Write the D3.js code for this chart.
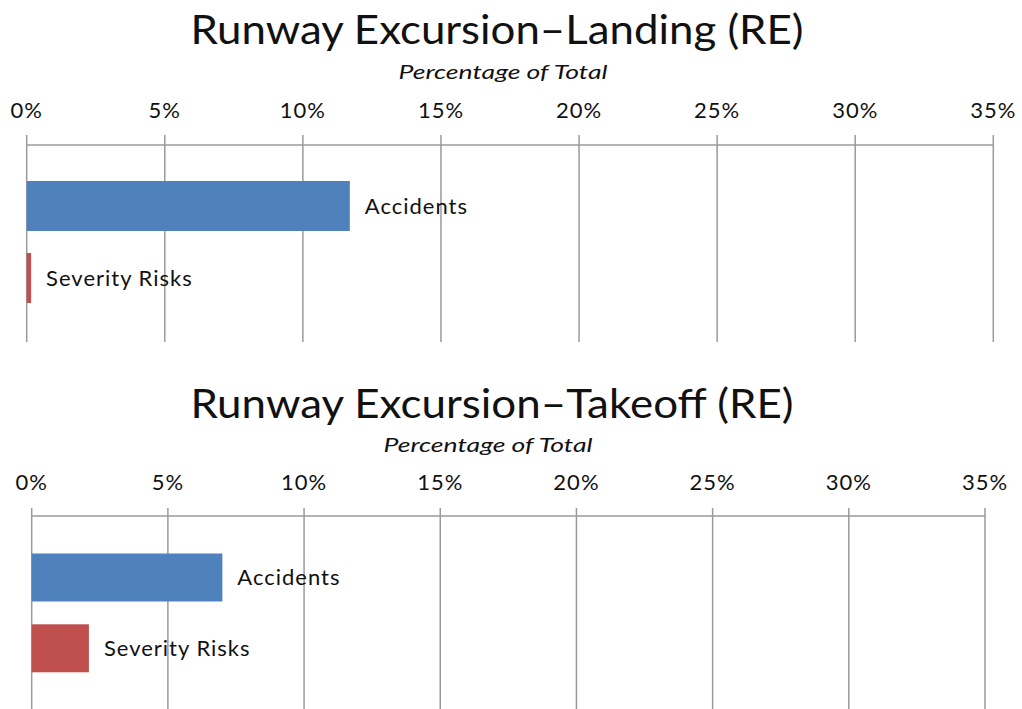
<!DOCTYPE html>
<html><head><meta charset="utf-8">
<script src="https://cdn.jsdelivr.net/npm/d3@7"></script>
<style>
html,body{margin:0;padding:0;background:#fff;}
svg{display:block;}
text{font-family:Lato,"Open Sans",sans-serif;fill:#111;}
</style></head>
<body><svg id="c" width="1022" height="709"></svg>
<script>
const categories = ["Accidents", "Severity Risks"];
const landingValues = [11.7, 0.16];
const takeoffValues = [7.0, 2.1];
const tickValues = [0, 5, 10, 15, 20, 25, 30, 35];
const titles = ["Runway Excursion\u2013Landing (RE)", "Runway Excursion\u2013Takeoff (RE)"];
const subtitle = "Percentage of Total";
const colors = ["#4F81BD", "#C0504D"];

const svg = d3.select("#c");

const panels = [
  {values: landingValues, title: titles[0], titleX: 497, titleY: 44, titleW: 613, subX: 503, subY: 79,
   x0: 26.7, x1: 993.3, tickLabelY: 118, axisY: 145, tickTop: 135, gridBottom: 342, yc: [206, 278], barH: 50},
  {values: takeoffValues, title: titles[1], titleX: 492, titleY: 418, titleW: 603, subX: 488, subY: 452,
   x0: 31.7, x1: 985, tickLabelY: 490, axisY: 516, tickTop: 508, gridBottom: 709, yc: [577.5, 648.3], barH: 48}
];

panels.forEach(p => {
  const g = svg.append("g");
  const x = d3.scaleLinear().domain([0, 35]).range([p.x0, p.x1]);
  const y = d3.scalePoint().domain(categories).range(p.yc);

  g.append("text").attr("x", p.titleX).attr("y", p.titleY)
    .attr("text-anchor", "middle").style("font-size", "41px")
    .attr("textLength", p.titleW).attr("lengthAdjust", "spacingAndGlyphs")
    .text(p.title);
  g.append("text").attr("x", p.subX).attr("y", p.subY)
    .attr("text-anchor", "middle").style("font-size", "19px").style("font-style", "italic")
    .attr("textLength", 209).attr("lengthAdjust", "spacingAndGlyphs")
    .text(subtitle);

  // gridlines
  g.append("g").selectAll("line").data(tickValues).join("line")
    .attr("x1", d => x(d)).attr("x2", d => x(d))
    .attr("y1", p.tickTop).attr("y2", p.gridBottom)
    .attr("stroke", "#9a9a9a").attr("stroke-width", 1.5);
  // axis line
  g.append("line").attr("x1", x(0)).attr("x2", x(35))
    .attr("y1", p.axisY).attr("y2", p.axisY)
    .attr("stroke", "#9a9a9a").attr("stroke-width", 1.5);
  // tick labels
  g.append("g").selectAll("text").data(tickValues).join("text")
    .attr("x", d => x(d)).attr("y", p.tickLabelY)
    .attr("text-anchor", "middle").style("font-size", "22px").style("letter-spacing", "1px")
    .text(d => d + "%");

  // bars
  g.append("g").selectAll("rect").data(p.values).join("rect")
    .attr("x", x(0)).attr("y", (d, i) => y(categories[i]) - p.barH / 2)
    .attr("width", d => x(d) - x(0)).attr("height", p.barH)
    .attr("fill", (d, i) => colors[i]);
  // labels
  g.append("g").selectAll("text").data(p.values).join("text")
    .attr("x", d => x(d) + 15).attr("y", (d, i) => y(categories[i]))
    .attr("dy", "0.35em").style("font-size", "22px").style("letter-spacing", "1px")
    .text((d, i) => categories[i]);
});
</script></body></html>
